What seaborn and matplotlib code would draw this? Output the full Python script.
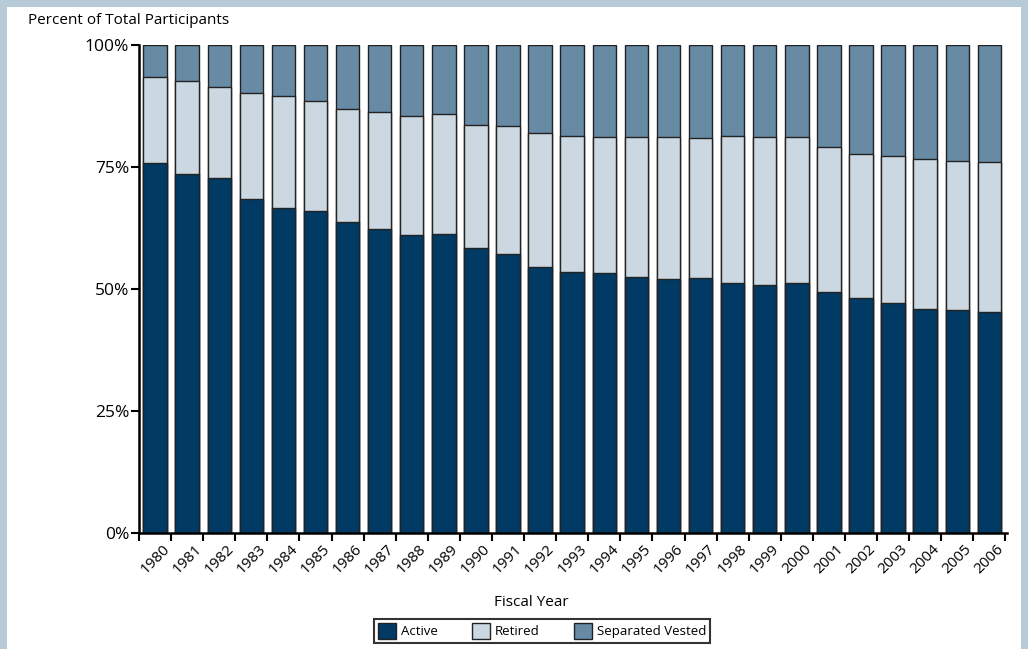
import matplotlib
matplotlib.use("Agg")
import matplotlib.pyplot as plt
import matplotlib.transforms as mtrans
import seaborn as sns
import pandas as pd
from matplotlib.patches import Patch, Rectangle

# data (percent of total participants)
years = [str(y) for y in range(1980, 2007)]
active = [75.9, 73.6, 72.8, 68.5, 66.5, 66.0, 63.7, 62.3, 61.1, 61.2, 58.5, 57.2, 54.6, 53.5,
          53.3, 52.4, 52.1, 52.2, 51.2, 50.9, 51.2, 49.4, 48.1, 47.1, 46.0, 45.6, 45.3]
retired = [17.5, 19.0, 18.5, 21.7, 23.0, 22.5, 23.1, 24.0, 24.4, 24.6, 25.1, 26.1, 27.4, 27.9,
           27.9, 28.7, 29.0, 28.7, 30.2, 30.3, 29.9, 29.6, 29.6, 30.1, 30.6, 30.7, 30.7]
separated = [6.6, 7.4, 8.7, 9.8, 10.5, 11.5, 13.2, 13.7, 14.5, 14.2, 16.4, 16.7, 18.0, 18.6,
             18.8, 18.9, 18.9, 19.1, 18.6, 18.8, 18.9, 21.0, 22.3, 22.8, 23.4, 23.7, 24.0]

series = ["Active", "Retired", "Separated Vested"]
colors = ["#013a65", "#ccd8e1", "#678aa5"]

df = pd.DataFrame({"year": years, "Active": active, "Retired": retired,
                   "Separated Vested": separated})
# cumulative heights for layered (stacked) bars
df["c1"] = df["Active"]
df["c2"] = df["Active"] + df["Retired"]
df["c3"] = df["c2"] + df["Separated Vested"]

sns.set_style("white")
plt.rcParams["font.family"] = ["Open Sans", "DejaVu Sans"]
plt.rcParams["text.color"] = "black"
plt.rcParams["xtick.color"] = "black"
plt.rcParams["ytick.color"] = "black"

fig = plt.figure(figsize=(10.28, 6.49), dpi=100, facecolor="#b7cad8")
fig.patches.append(Rectangle((7 / 1028, 0), 1014 / 1028, 1 - 7 / 649,
                             transform=fig.transFigure, facecolor="white",
                             edgecolor="none", zorder=-5))
ax = fig.add_axes([139 / 1028, 1 - 533 / 649, 868 / 1028, 488 / 649])
ax.set_facecolor("none")
ax.set_zorder(2)

for col, c in zip(["c3", "c2", "c1"], colors[::-1]):
    sns.barplot(data=df, x="year", y=col, color=c, width=0.73, edgecolor="#222222",
                linewidth=1, saturation=1, ax=ax)

ax.set_xlim(-0.5, 26.55)
ax.set_ylim(0, 100)
ax.set_yticks([0, 25, 50, 75, 100])
ax.set_yticklabels(["0%", "25%", "50%", "75%", "100%"], fontsize=12.5)
ax.tick_params(axis="y", left=True, direction="out", length=6, width=1.5, color="black", pad=1)

ax.set_xticks([i - 0.5 for i in range(28)])
ax.set_xticklabels([])
ax.tick_params(axis="x", which="major", bottom=True, direction="out", length=6, width=1.5,
               color="black")
ax.set_xticks(range(27), minor=True)
ax.set_xticklabels(years, minor=True, rotation=45, ha="right", rotation_mode="anchor",
                   fontsize=11)
ax.tick_params(axis="x", which="minor", bottom=True, length=0, pad=6)
shift = mtrans.ScaledTranslation(5 / 72, 0, fig.dpi_scale_trans)
for lab in ax.get_xticklabels(minor=True):
    lab.set_transform(lab.get_transform() + shift)

for s in ["top", "right"]:
    ax.spines[s].set_visible(False)
for s in ["left", "bottom"]:
    ax.spines[s].set_color("black")
    ax.spines[s].set_linewidth(1.8)

ax.set_xlabel("")
ax.set_ylabel("")
fig.text(28 / 1028, 1 - 20 / 649, "Percent of Total Participants", fontsize=11, va="center")
fig.text(531 / 1028, 1 - 602 / 649, "Fiscal Year", fontsize=11, ha="center", va="center")

handles = [Patch(facecolor=c, edgecolor="#222222", label=s) for s, c in zip(series, colors)]
leg = fig.legend(handles=handles, loc="center", bbox_to_anchor=(542 / 1028, 1 - 631 / 649),
                 ncol=3, fontsize=9.5, frameon=True, fancybox=False, handlelength=1.4,
                 handleheight=1.5, columnspacing=2.6, handletextpad=0.35,
                 borderpad=0.3)
leg.get_frame().set_edgecolor("black")
leg.get_frame().set_linewidth(1.5)

fig.savefig("out.png", dpi=100, facecolor=fig.get_facecolor())
